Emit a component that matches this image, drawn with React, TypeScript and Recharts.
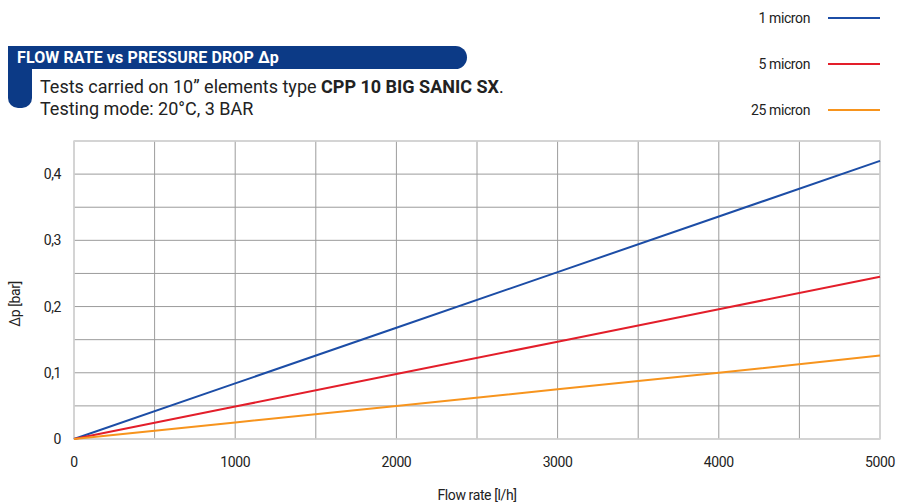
import { LineChart, Line, XAxis, YAxis, CartesianGrid, ReferenceArea, Label } from "recharts";

const flow = [0, 1000, 2000, 3000, 4000, 5000];
const micron1 = [0, 0.084, 0.168, 0.252, 0.336, 0.42];
const micron5 = [0, 0.049, 0.098, 0.147, 0.196, 0.245];
const micron25 = [0, 0.025, 0.05, 0.075, 0.1, 0.126];

const xTicks = [0, 500, 1000, 1500, 2000, 2500, 3000, 3500, 4000, 4500, 5000];
const xLabels = ["0", "", "1000", "", "2000", "", "3000", "", "4000", "", "5000"];
const yTicks = [0, 0.05, 0.1, 0.15, 0.2, 0.25, 0.3, 0.35, 0.4, 0.45];
const yLabels = ["0", "", "0,1", "", "0,2", "", "0,3", "", "0,4", ""];

const series = [
  { key: "m1", name: "1 micron", color: "#1c4da6" },
  { key: "m5", name: "5 micron", color: "#e31e2a" },
  { key: "m25", name: "25 micron", color: "#f7941d" },
];

const data = flow.map((f, i) => ({ flow: f, m1: micron1[i], m5: micron5[i], m25: micron25[i] }));

const font = 'Roboto, "Liberation Sans Narrow", sans-serif';
const navy = "#0c3a86";

export default function App() {
  return (
    <div style={{ position: "absolute", left: 0, top: 0, width: 908, height: 502, background: "#fff", fontFamily: font, color: "#222" }}>
      {/* header banner */}
      <div style={{ position: "absolute", left: 8, top: 46, width: 459, height: 23, background: navy, borderRadius: "0 12px 12px 0" }} />
      <div style={{ position: "absolute", left: 8, top: 60, width: 24, height: 48, background: navy, borderRadius: "0 0 10px 10px" }} />
      <div style={{ position: "absolute", left: 17, top: 47, color: "#fff", fontWeight: "bold", fontSize: 16, lineHeight: "22px", letterSpacing: 0.1 }}>
        FLOW RATE vs PRESSURE DROP Δp
      </div>
      <div style={{ position: "absolute", left: 40, top: 76, fontSize: 18, lineHeight: "22px", letterSpacing: 0 }}>
        Tests carried on 10” elements type <b>CPP 10 BIG SANIC SX</b>.
        <br />
        Testing mode: 20°C, 3 BAR
      </div>

      {/* legend */}
      {series.map((s, i) => (
        <div key={s.key} style={{ position: "absolute", left: 700, top: 9 + i * 46, width: 180, height: 18, display: "flex", alignItems: "center", justifyContent: "flex-end" }}>
          <span style={{ fontSize: 14, marginRight: 18, letterSpacing: -0.4 }}>{s.name}</span>
          <span style={{ width: 52, height: 2, background: s.color, display: "inline-block" }} />
        </div>
      ))}

      <div style={{ position: "absolute", left: 0, top: 0 }}>
        <LineChart width={908} height={502} data={data} margin={{ top: 141, right: 28, bottom: 0, left: 4 }}>
          <CartesianGrid stroke="#9c9c9c" strokeWidth={1} />
          <XAxis
            dataKey="flow"
            type="number"
            domain={[0, 5000]}
            ticks={xTicks}
            tickFormatter={(v: number) => xLabels[xTicks.indexOf(v)] ?? ""}
            axisLine={false}
            tickLine={false}
            height={63}
            tickMargin={12}
            tick={{ fill: "#222", fontSize: 14, fontFamily: font, letterSpacing: -0.4 }}
            interval={0}
          >
            <Label value="Flow rate [l/h]" position="insideBottom" offset={2} style={{ fill: "#222", fontSize: 14, fontFamily: font, letterSpacing: -0.4 }} />
          </XAxis>
          <YAxis
            type="number"
            domain={[0, 0.45]}
            ticks={yTicks}
            tickFormatter={(v: number) => yLabels[yTicks.findIndex((t) => Math.abs(t - v) < 1e-9)] ?? ""}
            axisLine={false}
            tickLine={false}
            width={70}
            tickMargin={7}
            tick={{ fill: "#222", fontSize: 14, fontFamily: font, letterSpacing: -0.4 }}
            interval={0}
          >
            <Label value="Δp [bar]" angle={-90} position="insideLeft" offset={11} dy={14} style={{ fill: "#222", fontSize: 14, fontFamily: font, textAnchor: "middle", letterSpacing: -0.4 }} />
          </YAxis>
          <ReferenceArea x1={0} x2={5000} y1={0} y2={0.45} fill="none" stroke="#d6d6d6" strokeWidth={1.5} />
          {series.map((s) => (
            <Line key={s.key} type="linear" dataKey={s.key} name={s.name} stroke={s.color} strokeWidth={2} dot={false} isAnimationActive={false} />
          ))}
        </LineChart>
      </div>
    </div>
  );
}
